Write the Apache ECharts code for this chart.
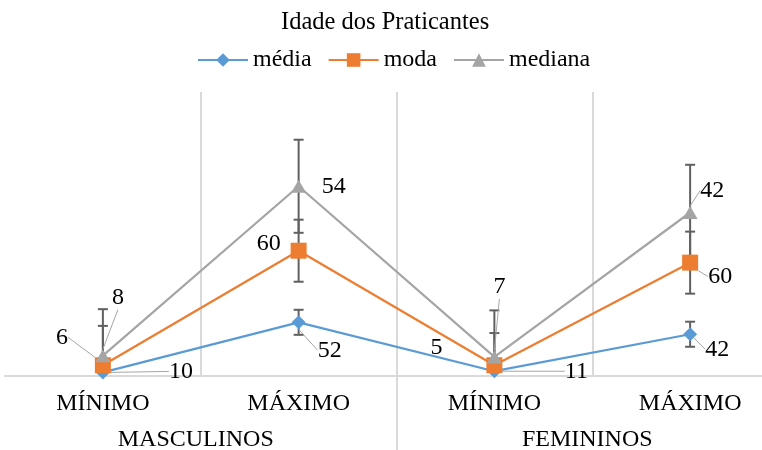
<!DOCTYPE html>
<html>
<head>
<meta charset="utf-8">
<script src="https://cdn.jsdelivr.net/npm/echarts@6/dist/echarts.min.js"></script>
<style>
  html, body { margin: 0; padding: 0; background: #ffffff; }
  #chart { width: 762px; height: 450px; }
</style>
</head>
<body>
<div id="chart"></div>
<script>
// Categories: two levels (statistic inside each sex group)
const categories = ['MÍNIMO', 'MÁXIMO', 'MÍNIMO', 'MÁXIMO'];
const groups = ['MASCULINOS', 'FEMININOS'];

// Series values (stacked lines)
const media = [10, 52, 11, 42];
const moda = [6, 60, 5, 60];
const mediana = [8, 54, 7, 42];

// Error bar half-lengths for each series
const mediaErr = [10.5, 10.5, 10.5, 10.5];
const modaErr = [33, 26, 27, 26];
const medianaErr = [39, 39, 39, 40];

const FONT = "'Liberation Serif', 'DejaVu Serif', serif";
const TEXT = '#000000';
const GRID_LINE = '#d9d9d9';

const seriesDefs = [
  { name: 'média', values: media, err: mediaErr, color: '#5b9bd5', symbol: 'diamond', size: 14 },
  { name: 'moda', values: moda, err: modaErr, color: '#ed7d31', symbol: 'rect', size: 16 },
  { name: 'mediana', values: mediana, err: medianaErr, color: '#a5a5a5', symbol: 'triangle', size: [15, 13] }
];

// Label placement relative to each marker (px), and whether a leader line is drawn
const labelOffsets = [
  [[78, -1], [31, 28], [82, 0], [27, 15]],
  [[-41, -28], [-30, -7], [-58, -18], [30, 14]],
  [[15, -58], [35, 0], [5, -70], [22, -22]]
];
const leaders = [
  [true, true, true, true],
  [true, false, false, true],
  [true, false, true, true]
];

// running totals so error bars sit on the stacked points
const totals = [];
let acc = categories.map(() => 0);
seriesDefs.forEach(function (s) {
  acc = acc.map(function (a, i) { return a + s.values[i]; });
  totals.push(acc.slice());
});

const lineSeries = seriesDefs.map(function (s, si) {
  return {
    name: s.name,
    type: 'line',
    stack: 'total',
    xAxisIndex: 0,
    yAxisIndex: 0,
    symbol: s.symbol,
    symbolSize: s.size,
    z: 3,
    lineStyle: { color: s.color, width: 2.25 },
    itemStyle: { color: s.color },
    label: {
      show: true,
      fontFamily: FONT,
      fontSize: 24,
      color: TEXT
    },
    labelLine: {
      show: true,
      lineStyle: { color: '#a6a6a6', width: 1 }
    },
    data: s.values.map(function (v, i) {
      return { value: v, labelLine: { show: leaders[si][i] } };
    })
  };
});

const errorSeries = seriesDefs.map(function (s, si) {
  return {
    name: s.name + ' erro',
    type: 'custom',
    xAxisIndex: 0,
    yAxisIndex: 0,
    z: 1,
    clip: true,
    silent: true,
    data: s.values.map(function (v, i) { return [i, totals[si][i], s.err[i]]; }),
    renderItem: function (params, api) {
      const x = api.value(0), y = api.value(1), e = api.value(2);
      const hi = api.coord([x, y + e]);
      const lo = api.coord([x, y - e]);
      const half = 5;
      const st = { stroke: '#606060', lineWidth: 2 };
      return {
        type: 'group',
        children: [
          { type: 'line', shape: { x1: hi[0], y1: hi[1], x2: lo[0], y2: lo[1] }, style: st },
          { type: 'line', shape: { x1: hi[0] - half, y1: hi[1], x2: hi[0] + half, y2: hi[1] }, style: st },
          { type: 'line', shape: { x1: lo[0] - half, y1: lo[1], x2: lo[0] + half, y2: lo[1] }, style: st }
        ]
      };
    }
  };
});

const chart = echarts.init(document.getElementById('chart'), null, { renderer: 'canvas' });

chart.setOption({
  backgroundColor: '#ffffff',
  animation: false,
  title: {
    text: 'Idade dos Praticantes',
    left: 276,
    top: 5,
    textStyle: { fontFamily: FONT, fontSize: 24.5, fontWeight: 'normal', color: TEXT }
  },
  legend: {
    data: seriesDefs.map(function (s) { return s.name; }),
    left: 192,
    top: 43,
    itemWidth: 50,
    itemHeight: 17,
    itemGap: 16,
    textStyle: { fontFamily: FONT, fontSize: 24, color: TEXT }
  },
  grid: [
    { left: 5, width: 783, top: 92, height: 284, containLabel: false, outerBoundsMode: 'none' },
    { left: 5, width: 783, top: 376, height: 74, containLabel: false, outerBoundsMode: 'none' }
  ],
  xAxis: [
    {
      type: 'category',
      gridIndex: 0,
      data: categories,
      position: 'bottom',
      boundaryGap: true,
      axisLine: { show: true, lineStyle: { color: GRID_LINE, width: 2 } },
      axisTick: { show: false },
      axisLabel: { fontFamily: FONT, fontSize: 24, color: TEXT, margin: 16 },
      splitLine: { show: true, showMinLine: false, lineStyle: { color: GRID_LINE, width: 2 } }
    },
    {
      type: 'category',
      gridIndex: 0,
      data: groups,
      position: 'bottom',
      boundaryGap: true,
      axisLine: { show: false },
      axisTick: { show: false },
      axisLabel: { fontFamily: FONT, fontSize: 24, color: TEXT, margin: 52, padding: [0, 10, 0, 0] },
      splitLine: { show: false }
    },
    {
      type: 'category',
      gridIndex: 1,
      data: groups,
      position: 'top',
      boundaryGap: true,
      axisLine: { show: false },
      axisTick: { show: false },
      axisLabel: { show: false },
      splitLine: { show: true, showMinLine: false, showMaxLine: false, lineStyle: { color: GRID_LINE, width: 2 } }
    }
  ],
  yAxis: [
    { type: 'value', gridIndex: 0, min: 7, max: 245, show: false },
    { type: 'value', gridIndex: 1, show: false }
  ],
  series: lineSeries.concat(errorSeries),
  labelLayout: function (params) {
    if (params.seriesIndex > 2) return {};
    const o = labelOffsets[params.seriesIndex][params.dataIndex];
    const r = params.rect;
    return {
      x: r.x + r.width / 2 + o[0],
      y: r.y + r.height / 2 + o[1],
      align: 'center',
      verticalAlign: 'middle'
    };
  }
});
</script>
</body>
</html>
